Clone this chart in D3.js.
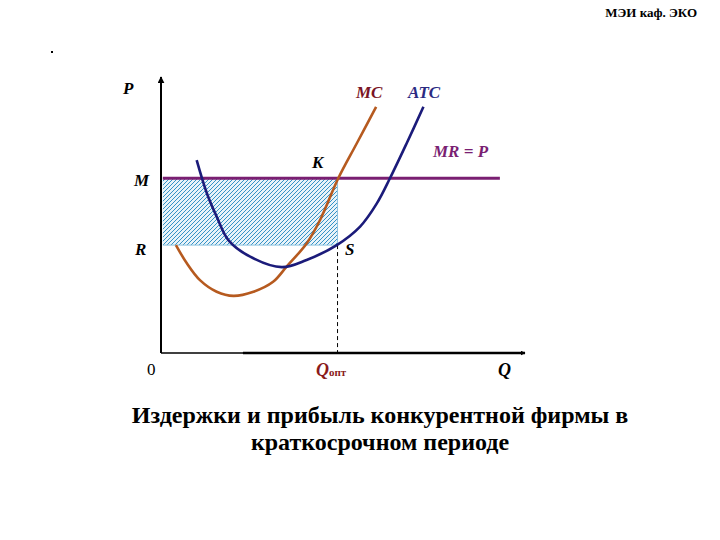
<!DOCTYPE html>
<html>
<head>
<meta charset="utf-8">
<script src="https://cdn.jsdelivr.net/npm/d3@7"></script>
<style>
  html, body { margin: 0; padding: 0; background: #fff; }
  svg { display: block; }
</style>
</head>
<body>
<svg id="chart" width="720" height="540"></svg>
<script>
// ---- data (Q and P in abstract units 0..100) ----
const mcQ = [4.1, 7.1, 10.7, 15.3, 19.9, 25.4, 30.8, 34.5, 40.0, 43.7, 48.7, 53.8, 59.1];
const mcP = [39.1, 32.5, 26.4, 22.2, 20.7, 22.2, 25.8, 31.3, 39.7, 48.2, 63.3, 76.0, 89.2];
const atcQ = [9.8, 12.6, 15.3, 18.5, 24.5, 33.2, 40.0, 48.3, 54.7, 59.3, 62.9, 67.5, 72.1];
const atcP = [69.9, 57.9, 49.4, 40.9, 34.9, 31.1, 33.7, 39.1, 45.8, 54.2, 63.3, 76.0, 89.2];
const priceM = 63.3;      // MR = P
const priceR = 39.1;      // ATC at Qopt
const qOpt = 48.5;
const mrRange = [0.5, 93.1];

const labels = {
  title1: "Издержки и прибыль конкурентной фирмы в",
  title2: "краткосрочном периоде",
  header: "МЭИ каф. ЭКО"
};

const SERIF = "'Liberation Serif', 'Times New Roman', 'DejaVu Serif', serif";

const svg = d3.select("#chart");
const x = d3.scaleLinear().domain([0, 100]).range([161, 525]);
const y = d3.scaleLinear().domain([0, 100]).range([353, 77]);

// pattern
const defs = svg.append("defs");
const pat = defs.append("pattern").attr("id", "hatch")
  .attr("patternUnits", "userSpaceOnUse").attr("width", 4).attr("height", 4);
pat.append("rect").attr("width", 4).attr("height", 4).attr("fill", "#e8f3f9");
pat.append("path").attr("d", "M-1,1 L1,-1 M0,4 L4,0 M3,5 L5,3")
  .attr("stroke", "#3592c6").attr("stroke-width", 1);

defs.append("marker").attr("id", "arrow").attr("viewBox", "0 0 10 10")
  .attr("refX", 9).attr("refY", 5).attr("markerWidth", 5).attr("markerHeight", 5)
  .attr("markerUnits", "userSpaceOnUse")
  .attr("orient", "auto")
  .append("path").attr("d", "M0,0 L10,5 L0,10 Z").attr("fill", "#000");
defs.append("marker").attr("id", "arrow2").attr("viewBox", "0 0 10 10")
  .attr("refX", 9).attr("refY", 5).attr("markerWidth", 7).attr("markerHeight", 7)
  .attr("markerUnits", "userSpaceOnUse")
  .attr("orient", "auto")
  .append("path").attr("d", "M0,0 L10,5 L0,10 Z").attr("fill", "#000");

// hatched profit rectangle
svg.append("rect")
  .attr("x", x(0.5)).attr("y", y(priceM))
  .attr("width", x(qOpt) - x(0.5)).attr("height", y(priceR) - y(priceM))
  .attr("fill", "url(#hatch)");
svg.append("line")
  .attr("x1", x(0.5)).attr("x2", x(qOpt)).attr("y1", y(priceR)).attr("y2", y(priceR))
  .attr("stroke", "#8cc3e0").attr("stroke-width", 1);
svg.append("line")
  .attr("x1", x(qOpt)).attr("x2", x(qOpt)).attr("y1", y(priceM)).attr("y2", y(priceR))
  .attr("stroke", "#8cc3e0").attr("stroke-width", 1);

// dashed Qopt line
svg.append("line")
  .attr("x1", x(qOpt)).attr("x2", x(qOpt)).attr("y1", y(priceR)).attr("y2", y(0))
  .attr("stroke", "#000").attr("stroke-width", 1).attr("stroke-dasharray", "4,3");

// axes
svg.append("line").attr("x1", x(0)).attr("x2", x(0)).attr("y1", y(0)).attr("y2", y(100))
  .attr("stroke", "#000").attr("stroke-width", 2).attr("marker-end", "url(#arrow2)");
svg.append("line").attr("x1", x(0)).attr("x2", x(23)).attr("y1", y(0)).attr("y2", y(0))
  .attr("stroke", "#000").attr("stroke-width", 1.6);
svg.append("line").attr("x1", x(22.5)).attr("x2", x(100)).attr("y1", y(0)).attr("y2", y(0))
  .attr("stroke", "#000").attr("stroke-width", 2.6).attr("marker-end", "url(#arrow)");

// MR = P line
svg.append("line")
  .attr("x1", x(mrRange[0])).attr("x2", x(mrRange[1])).attr("y1", y(priceM)).attr("y2", y(priceM))
  .attr("stroke", "#7a1f72").attr("stroke-width", 3);

const line = d3.line().x(d => x(d[0])).y(d => y(d[1])).curve(d3.curveCatmullRom.alpha(0.5));
svg.append("path").datum(d3.zip(mcQ, mcP)).attr("d", line)
  .attr("fill", "none").attr("stroke", "#b65a1f").attr("stroke-width", 2.6);
svg.append("path").datum(d3.zip(atcQ, atcP)).attr("d", line)
  .attr("fill", "none").attr("stroke", "#1b1b7a").attr("stroke-width", 2.6);

// labels
function lab(tx, px, py, opts = {}) {
  return svg.append("text").attr("x", px).attr("y", py)
    .attr("font-family", SERIF)
    .attr("font-size", opts.size || 17)
    .attr("font-weight", opts.weight || "bold")
    .attr("font-style", opts.style || "italic")
    .attr("fill", opts.fill || "#000")
    .attr("text-anchor", opts.anchor || "start")
    .text(tx);
}
lab("P", 123, 94);
lab("MC", 356, 98, {fill: "#7a1424"});
lab("ATC", 408, 98, {fill: "#2b2b82"});
lab("MR = P", 433, 157, {fill: "#7a1f72"});
lab("K", 312, 168);
lab("M", 134, 186);
lab("R", 135, 255);
lab("S", 345, 255);
lab("0", 147, 375, {style: "normal", weight: "normal"});
const qt = lab("Q", 316, 376, {fill: "#8a1a1a", size: 18});
qt.append("tspan").attr("font-size", 11).attr("font-style", "normal").text("опт");
lab("Q", 498, 376, {size: 18});

// title & header
svg.append("text").attr("x", 380).attr("y", 423).attr("text-anchor", "middle")
  .attr("font-family", SERIF)
  .attr("font-size", 24).attr("font-weight", "bold").text(labels.title1);
svg.append("text").attr("x", 380).attr("y", 450).attr("text-anchor", "middle")
  .attr("font-family", SERIF)
  .attr("font-size", 24).attr("font-weight", "bold").text(labels.title2);
svg.append("text").attr("x", 697).attr("y", 17).attr("text-anchor", "end")
  .attr("font-family", SERIF)
  .attr("font-size", 13).attr("font-weight", "bold").text(labels.header);
svg.append("rect").attr("x", 51).attr("y", 51).attr("width", 2).attr("height", 2).attr("fill", "#000");
</script>
</body>
</html>
